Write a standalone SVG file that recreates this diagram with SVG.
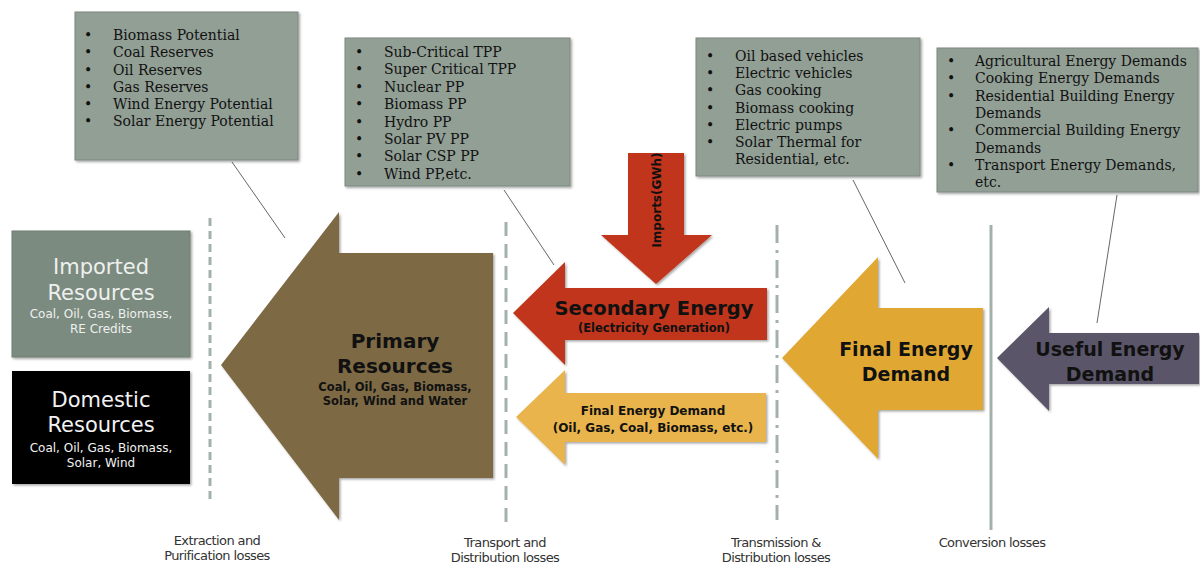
<svg xmlns="http://www.w3.org/2000/svg" width="1200" height="564" viewBox="0 0 1200 564">
<style>
.box{fill:#929f95;stroke:#7d8880;stroke-width:1}
.li{font-family:"DejaVu Serif","Liberation Serif",serif;font-size:14px;fill:#111}
.sep{stroke:#a3b1ab;stroke-width:3;fill:none}
.lead{stroke:#666;stroke-width:1;fill:none}
.g{font-family:"DejaVu Sans","Liberation Sans",sans-serif;text-anchor:middle}
.b{font-weight:bold;fill:#111}
.loss{font-family:"DejaVu Sans","Liberation Sans",sans-serif;font-size:13px;fill:#333;text-anchor:middle;letter-spacing:-0.6px}
</style>
<defs>
<filter id="sh" x="-10%" y="-10%" width="120%" height="120%"><feDropShadow dx="1.5" dy="1.5" stdDeviation="1.2" flood-color="#000" flood-opacity="0.35"/></filter>
</defs>
<rect width="1200" height="564" fill="#fff"/>

<g id="separators">
<line class="sep" x1="210" y1="218" x2="210" y2="500" stroke-dasharray="8,5"/>
<line class="sep" x1="506" y1="222" x2="506" y2="527" stroke-dasharray="14,8"/>
<line class="sep" x1="777" y1="225" x2="777" y2="520" stroke-dasharray="18,7,3,7"/>
<line class="sep" x1="991" y1="225" x2="991" y2="530"/>
</g>

<g id="connectors">
<line class="lead" x1="232" y1="162" x2="285" y2="238"/>
<line class="lead" x1="504" y1="190" x2="554" y2="265"/>
<line class="lead" x1="853" y1="180" x2="905" y2="283"/>
<line class="lead" x1="1117" y1="195" x2="1097" y2="323"/>
</g>

<g id="box-resources">
<rect class="box" x="75" y="12" width="223" height="148" filter="url(#sh)"/>
<g class="li">
<text x="84" y="40">•</text><text x="113" y="40">Biomass Potential</text>
<text x="84" y="57">•</text><text x="113" y="57">Coal Reserves</text>
<text x="84" y="75">•</text><text x="113" y="75">Oil Reserves</text>
<text x="84" y="92">•</text><text x="113" y="92">Gas Reserves</text>
<text x="84" y="109">•</text><text x="113" y="109">Wind Energy Potential</text>
<text x="84" y="126">•</text><text x="113" y="126">Solar Energy Potential</text>
</g>
</g>

<g id="box-plants">
<rect class="box" x="345" y="38" width="225" height="148" filter="url(#sh)"/>
<g class="li">
<text x="355" y="57">•</text><text x="384" y="57">Sub-Critical TPP</text>
<text x="355" y="74">•</text><text x="384" y="74">Super Critical TPP</text>
<text x="355" y="92">•</text><text x="384" y="92">Nuclear PP</text>
<text x="355" y="109">•</text><text x="384" y="109">Biomass PP</text>
<text x="355" y="127">•</text><text x="384" y="127">Hydro PP</text>
<text x="355" y="144">•</text><text x="384" y="144">Solar PV PP</text>
<text x="355" y="161">•</text><text x="384" y="161">Solar CSP PP</text>
<text x="355" y="179">•</text><text x="384" y="179">Wind PP,etc.</text>
</g>
</g>

<g id="box-enduse">
<rect class="box" x="696" y="38" width="224" height="138" filter="url(#sh)"/>
<g class="li">
<text x="706" y="61">•</text><text x="735" y="61">Oil based vehicles</text>
<text x="706" y="78">•</text><text x="735" y="78">Electric vehicles</text>
<text x="706" y="95">•</text><text x="735" y="95">Gas cooking</text>
<text x="706" y="113">•</text><text x="735" y="113">Biomass cooking</text>
<text x="706" y="130">•</text><text x="735" y="130">Electric pumps</text>
<text x="706" y="147">•</text><text x="735" y="147">Solar Thermal for</text>
<text x="735" y="164">Residential, etc.</text>
</g>
</g>

<g id="box-demands">
<rect class="box" x="937" y="48" width="261" height="144" filter="url(#sh)"/>
<g class="li">
<text x="947" y="66">•</text><text x="975" y="66">Agricultural Energy Demands</text>
<text x="947" y="83">•</text><text x="975" y="83">Cooking Energy Demands</text>
<text x="947" y="101">•</text><text x="975" y="101">Residential Building Energy</text>
<text x="975" y="118">Demands</text>
<text x="947" y="135">•</text><text x="975" y="135">Commercial Building Energy</text>
<text x="975" y="153">Demands</text>
<text x="947" y="170">•</text><text x="975" y="170">Transport Energy Demands,</text>
<text x="975" y="187">etc.</text>
</g>
</g>

<g id="imported">
<rect x="12" y="231" width="178" height="126" fill="#7c8b80" stroke="#6f7c72" filter="url(#sh)"/>
<g class="g" fill="#eef0ee">
<text x="101" y="274" font-size="21">Imported</text>
<text x="101" y="300" font-size="21">Resources</text>
<text x="101" y="318" font-size="12">Coal, Oil, Gas, Biomass,</text>
<text x="101" y="333" font-size="12">RE Credits</text>
</g>
</g>

<g id="domestic">
<rect x="12" y="371" width="178" height="113" fill="#000" filter="url(#sh)"/>
<g class="g" fill="#f2f2f2">
<text x="101" y="407" font-size="21">Domestic</text>
<text x="101" y="432" font-size="21">Resources</text>
<text x="101" y="452" font-size="12">Coal, Oil, Gas, Biomass,</text>
<text x="101" y="467" font-size="12">Solar, Wind</text>
</g>
</g>

<g id="primary">
<polygon points="221,365 339,212 339,253 493,253 493,478 339,478 339,520" fill="#7d6a44" filter="url(#sh)"/>
<g class="g b">
<text x="395" y="348" font-size="20">Primary</text>
<text x="395" y="373" font-size="20">Resources</text>
<text x="395" y="391" font-size="11.5">Coal, Oil, Gas, Biomass,</text>
<text x="395" y="405" font-size="11.5">Solar, Wind and Water</text>
</g>
</g>

<g id="imports">
<polygon points="628,153 684,153 684,235 712,235 656,284 601,235 628,235" fill="#c0361b" filter="url(#sh)"/>
<text class="g b" transform="translate(661,200) rotate(-90)" font-size="12">Imports(GWh)</text>
</g>

<g id="secondary">
<polygon points="513,313 565,262 565,288 767,288 767,340 565,340 565,365" fill="#c0361b" filter="url(#sh)"/>
<g class="g b">
<text x="654" y="315" font-size="19.5">Secondary Energy</text>
<text x="654" y="332" font-size="11.5">(Electricity Generation)</text>
</g>
</g>

<g id="final-small">
<polygon points="516,417 565,370 565,393 766,393 766,442 565,442 565,465" fill="#e8b44c" filter="url(#sh)"/>
<g class="g b">
<text x="653" y="415" font-size="12">Final Energy Demand</text>
<text x="653" y="432" font-size="12">(Oil, Gas, Coal, Biomass, etc.)</text>
</g>
</g>

<g id="final">
<polygon points="782,358 878,257 878,308 983,308 983,410 878,410 878,459" fill="#e0a830" filter="url(#sh)"/>
<g class="g b">
<text x="906" y="356" font-size="19">Final Energy</text>
<text x="906" y="381" font-size="19">Demand</text>
</g>
</g>

<g id="useful">
<polygon points="997,358 1049,307 1049,333 1199,333 1199,384 1049,384 1049,411" fill="#5a5467" filter="url(#sh)"/>
<g class="g b">
<text x="1110" y="356" font-size="19">Useful Energy</text>
<text x="1110" y="381" font-size="19">Demand</text>
</g>
</g>

<g id="losses">
<text class="loss" x="217" y="545">Extraction and</text>
<text class="loss" x="217" y="560">Purification losses</text>
<text class="loss" x="505" y="547">Transport and</text>
<text class="loss" x="505" y="562">Distribution losses</text>
<text class="loss" x="776" y="547">Transmission &amp;</text>
<text class="loss" x="776" y="562">Distribution losses</text>
<text class="loss" x="992" y="547">Conversion losses</text>
</g>
</svg>
